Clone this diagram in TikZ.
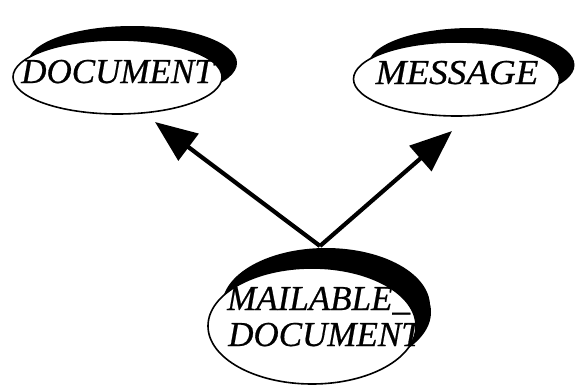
\documentclass[tikz,border=0pt]{standalone}
\usepackage{fontspec}
\setmainfont{Liberation Serif}[ItalicFeatures={FakeBold=0.6}]
\usetikzlibrary{arrows.meta,shapes.geometric,shadows}
\tikzset{
  classbox/.style={ellipse, draw=black, line width=1.6pt, fill=white, inner sep=0pt,
    general shadow={fill=black, opacity=1, shadow xshift=15pt, shadow yshift=14pt}},
  classname/.style={inner sep=0pt, font=\fontsize{35}{36}\selectfont\itshape},
  inherits/.style={line width=4.2pt, -{Triangle[length=42pt,width=33pt]}}
}
\begin{document}
\begin{tikzpicture}[x=1pt,y=-1pt]
  \useasboundingbox (0,0) rectangle (577,386);
  % class ellipses
  \node[classbox, minimum width=209pt, minimum height=74pt] (doc) at (117.5,77) {};
  \node[classbox, minimum width=206pt, minimum height=74pt] (msg) at (456.5,79) {};
  \node[classbox, minimum width=208pt, minimum height=116pt,
        general shadow={fill=black, opacity=1, shadow xshift=14pt, shadow yshift=20pt}] (mail) at (312,326) {};
  % class names
  \node[classname, anchor=base] (doc-name) at (117.5,83) {DOCUMENT};
  \node[classname, anchor=base] (msg-name) at (457,84) {\scalebox{1.06}[1]{MESSAGE}};
  \node[classname, anchor=base west] (mail-name1) at (227,310) {MAILABLE\_};
  \node[classname, anchor=base west] (mail-name2) at (228,346) {DOCUMENT};
  % inheritance arrows
  \coordinate (fork) at (320,246);
  \coordinate (doc-tip) at (155,122);
  \coordinate (msg-tip) at (452,131);
  \draw[inherits] (fork) -- (doc-tip);
  \draw[inherits] (fork) -- (msg-tip);
\end{tikzpicture}
\end{document}
